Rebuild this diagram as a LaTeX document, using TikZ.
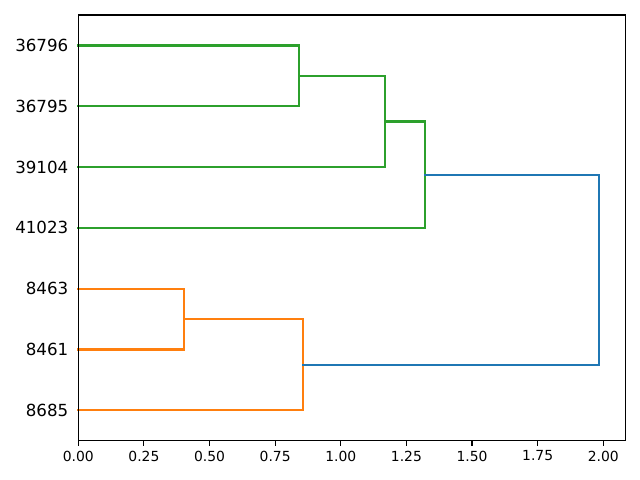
\documentclass[tikz,border=0pt]{standalone}
\usepackage{fontspec}
\setmainfont{DejaVu Sans}
\definecolor{mplblue}{HTML}{1F77B4}
\definecolor{mplorange}{HTML}{FF7F0E}
\definecolor{mplgreen}{HTML}{2CA02C}
\tikzset{
  link/.style={line width=1.5pt, line cap=rect, line join=miter},
  spine/.style={line width=0.8pt, black, line cap=rect},
  tickmark/.style={line width=0.8pt, black},
  xlab/.style={anchor=north, inner sep=0pt, font=\fontsize{10}{12}\selectfont},
  ylab/.style={anchor=east, inner sep=0pt, font=\fontsize{12}{14}\selectfont},
}
\begin{document}
\begin{tikzpicture}[x=0.72pt, y=0.72pt]
\useasboundingbox (0,0) rectangle (640,480);
\fill[white] (0,0) rectangle (640,480);
\coordinate (ax-sw) at (78.3,39.3);
\coordinate (ax-ne) at (625.7,465.0);
\begin{scope}[shift={(78.3,39.3)}, x=189.0pt, y=4.378pt]
  % leaves
  \coordinate (a1) at (0,65);
  \coordinate (a2) at (0,55);
  \coordinate (a3) at (0,45);
  \coordinate (a4) at (0,35);
  \coordinate (a5) at (0,25);
  \coordinate (a6) at (0,15);
  \coordinate (a7) at (0,5);
  % merges
  \coordinate (m1) at (0.841,60);
  \coordinate (m2) at (1.170,52.5);
  \coordinate (m3) at (1.321,43.75);
  \coordinate (o1) at (0.403,20);
  \coordinate (o2) at (0.856,12.5);
  \coordinate (root) at (1.985,28.125);
  % links
  \draw[link, mplgreen] (a1) -| (m1) |- (a2);
  \draw[link, mplgreen] (m1) -| (m2) |- (a3);
  \draw[link, mplgreen] (m2) -| (m3) |- (a4);
  \draw[link, mplorange] (a5) -| (o1) |- (a6);
  \draw[link, mplorange] (o1) -| (o2) |- (a7);
  \draw[link, mplblue] (m3) -| (root) |- (o2);
  % x ticks
  \foreach \v/\t in {0/0.00,0.25/0.25,0.5/0.50,0.75/0.75,1/1.00,1.25/1.25,1.5/1.50,1.75/1.75,2/2.00}{
    \draw[tickmark] (\v,0) -- ++(0,-3.5pt);
    \node[xlab] (xt\v) at ([yshift=-7pt]\v,0) {\t};
  }
  % y labels
  \node[ylab] (y1) at ([xshift=-7pt]a1) {36796};
  \node[ylab] (y2) at ([xshift=-7pt]a2) {36795};
  \node[ylab] (y3) at ([xshift=-7pt]a3) {39104};
  \node[ylab] (y4) at ([xshift=-7pt]a4) {41023};
  \node[ylab] (y5) at ([xshift=-7pt]a5) {8463};
  \node[ylab] (y6) at ([xshift=-7pt]a6) {8461};
  \node[ylab] (y7) at ([xshift=-7pt]a7) {8685};
\end{scope}
\draw[spine] (ax-sw) rectangle (ax-ne);
\end{tikzpicture}
\end{document}
